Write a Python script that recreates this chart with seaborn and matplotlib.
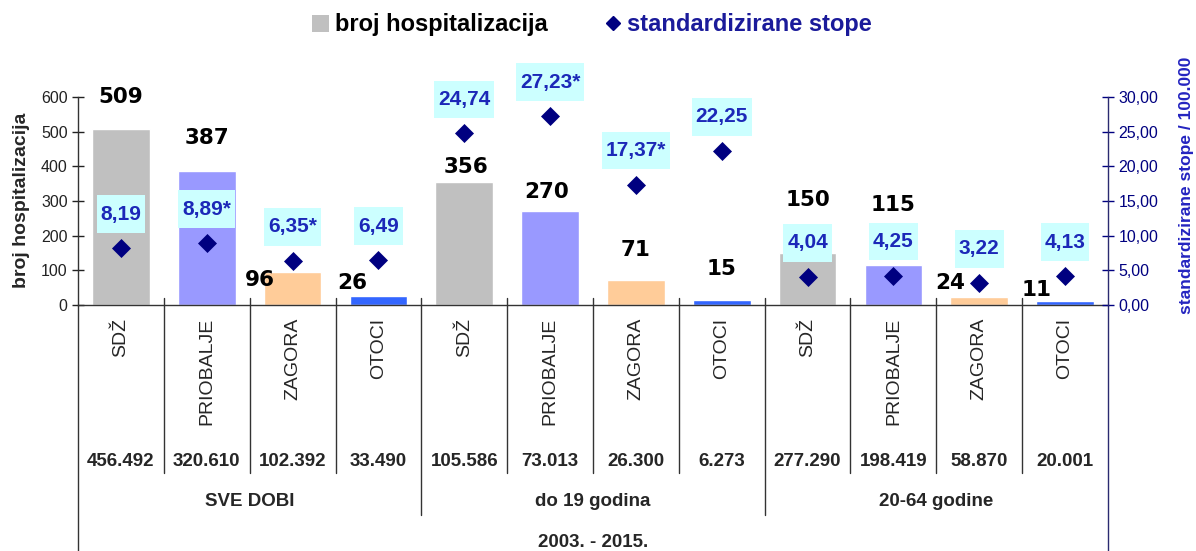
import pandas as pd
import matplotlib.pyplot as plt
import seaborn as sns
from matplotlib.path import Path
from matplotlib.patches import Patch
from matplotlib.lines import Line2D

# ------------------------------------
# Data
# ------------------------------------
regions = ["SDŽ", "PRIOBALJE", "ZAGORA", "OTOCI",
           "SDŽ", "PRIOBALJE", "ZAGORA", "OTOCI",
           "SDŽ", "PRIOBALJE", "ZAGORA", "OTOCI"]
age_groups = ["SVE DOBI", "do 19 godina", "20-64 godine"]
hospitalizations = [509, 387, 96, 26, 356, 270, 71, 15, 150, 115, 24, 11]
std_rates = [8.19, 8.89, 6.35, 6.49, 24.74, 27.23, 17.37, 22.25,
             4.04, 4.25, 3.22, 4.13]
rate_flags = ["", "*", "*", "", "", "*", "*", "", "", "", "", ""]
population = [456492, 320610, 102392, 33490, 105586, 73013, 26300, 6273,
              277290, 198419, 58870, 20001]
period = "2003. - 2015."
left_ticks = [0, 100, 200, 300, 400, 500, 600]
right_ticks = [0, 5, 10, 15, 20, 25, 30]

region_colors = {"SDŽ": "#c0c0c0", "PRIOBALJE": "#9999ff",
                 "ZAGORA": "#ffcc99", "OTOCI": "#3366ff"}
NAVY = "#000080"
RATE_BLUE = "#1c28b8"

# manual label nudges (pixels) like in the original sheet
bar_lbl_dx = [0, 0, -33, -26, 2, -3, 0, 0, 0, 0, -29, -29]
bar_lbl_dy = [32, 33, -8, 13, 15, 19, 30, 31, 53, 60, 14, 11]

df = pd.DataFrame({"slot": range(len(regions)), "region": regions,
                   "broj": hospitalizations, "stopa": std_rates})

sns.set_style("white")
plt.rcParams["font.family"] = ["Liberation Sans", "DejaVu Sans"]


def label_box(x0, y0, width, height, mutation_size):
    px = 0.19 * mutation_size
    py = 0.45 * mutation_size
    x1, y1 = x0 + width, y0 + height
    verts = [(x0 - px, y0 - py), (x1 + px, y0 - py), (x1 + px, y1 + py),
             (x0 - px, y1 + py), (x0 - px, y0 - py)]
    codes = [Path.MOVETO, Path.LINETO, Path.LINETO, Path.LINETO, Path.CLOSEPOLY]
    return Path(verts, codes)


W, H = 1196, 551
fig = plt.figure(figsize=(W / 100, H / 100), dpi=100)
ax = fig.add_axes([78 / W, 1 - 305 / H, (1108 - 78) / W, 208 / H])

# ------------------------------------
# Bars
# ------------------------------------
sns.barplot(data=df, x="slot", y="broj", hue="region", palette=region_colors,
            dodge=False, width=0.67, saturation=1, legend=False, ax=ax)
ax.set_xlim(-0.5, 11.5)
ax.set_ylim(0, 600)
ax.set_yticks(left_ticks)
ax.set_xlabel("")
ax.set_ylabel("")
ax.tick_params(axis="x", bottom=False, labelbottom=False)
ax.tick_params(axis="y", left=True, direction="inout", length=9, width=1,
               pad=3, labelsize=11.5, colors="#222222")
for s in ["top", "right"]:
    ax.spines[s].set_visible(False)
for s in ["left", "bottom"]:
    ax.spines[s].set_color("#333333")
    ax.spines[s].set_linewidth(1)

for i, v in enumerate(hospitalizations):
    ax.annotate(str(v), xy=(i, v),
                xytext=(bar_lbl_dx[i] * 0.72, bar_lbl_dy[i] * 0.72),
                textcoords="offset points", ha="center", va="center",
                fontsize=15.5, fontweight="bold", family="DejaVu Sans",
                color="black", annotation_clip=False)

# ------------------------------------
# Rates (right axis)
# ------------------------------------
ax2 = ax.twinx()
sns.scatterplot(data=df, x="slot", y="stopa", marker="D", s=94, color=NAVY,
                edgecolor=NAVY, linewidth=0, legend=False, zorder=5, ax=ax2)
ax2.set_xlim(-0.5, 11.5)
ax2.set_ylim(0, 30)
ax2.set_yticks(right_ticks)
ax2.set_yticklabels([f"{t:.2f}".replace(".", ",") for t in right_ticks])
ax2.set_xlabel("")
ax2.set_ylabel("")
ax2.tick_params(axis="y", right=True, direction="inout", length=9, width=1,
                pad=3, labelsize=11.5, colors=NAVY)
for s in ["top", "left", "bottom"]:
    ax2.spines[s].set_visible(False)
ax2.spines["right"].set_color("#2a2a70")
ax2.spines["right"].set_linewidth(1)

for i, r in enumerate(std_rates):
    txt = f"{r:.2f}".replace(".", ",") + rate_flags[i]
    ax2.annotate(txt, xy=(i, r), xytext=(0, 34 * 0.72),
                 textcoords="offset points", ha="center", va="center",
                 fontsize=15, fontweight="bold", color=RATE_BLUE,
                 annotation_clip=False,
                 bbox=dict(boxstyle=label_box, facecolor="#ccffff",
                           edgecolor="none"))

# ------------------------------------
# Table under the axis
# ------------------------------------
xt = ax.get_xaxis_transform()
for i, name in enumerate(regions):
    ax.text(i, -0.0625, name, rotation=90, ha="center", va="top",
            fontsize=14, transform=xt)
    ax.text(i, -0.75, f"{population[i]:,}".replace(",", "."), ha="center",
            va="center", fontsize=13.5, fontweight="bold", transform=xt)

for g, name in enumerate(age_groups):
    ax.text(g * 4 + 1.5, -0.947, name, ha="center", va="center",
            fontsize=13.5, fontweight="bold", transform=xt)
ax.text(5.5, -1.144, period, ha="center", va="center", fontsize=13.5,
        fontweight="bold", transform=xt)

for b in range(1, len(regions)):
    bottom = -1.01 if b % 4 == 0 else -0.808
    ax.plot([b - 0.5, b - 0.5], [0.034, bottom], transform=xt,
            color="#333333", lw=1, clip_on=False)
ax.plot([-0.5, -0.5], [0, -1.2], transform=xt, color="#333333", lw=1,
        clip_on=False)
ax.plot([11.5, 11.5], [0, -1.2], transform=xt, color="#2a2a70", lw=1,
        clip_on=False)

# ------------------------------------
# Axis titles and legend
# ------------------------------------
fig.text(22 / W, 1 - 200 / H, "broj hospitalizacija", rotation=90,
         ha="center", va="center", fontsize=14, fontweight="bold")
fig.text(1187 / W, 1 - 185 / H, "standardizirane stope / 100.000",
         rotation=90, ha="center", va="center", fontsize=12.5,
         fontweight="bold", color="#2424c0")

handles = [Patch(facecolor=region_colors["SDŽ"], edgecolor="none",
                 label="broj hospitalizacija"),
           Line2D([], [], marker="D", linestyle="none", markersize=7.6,
                  markerfacecolor=NAVY, markeredgecolor=NAVY,
                  label="standardizirane stope")]
leg = fig.legend(handles=handles, ncol=2, loc="center",
                 bbox_to_anchor=(592 / W, 1 - 25 / H), frameon=False,
                 prop=dict(weight="bold", size=17), handlelength=0.7,
                 handleheight=0.7, handletextpad=0.25, columnspacing=2.4)
leg.get_texts()[0].set_color("black")
leg.get_texts()[1].set_color("#1a1a9a")

fig.savefig("out.png", dpi=100)
